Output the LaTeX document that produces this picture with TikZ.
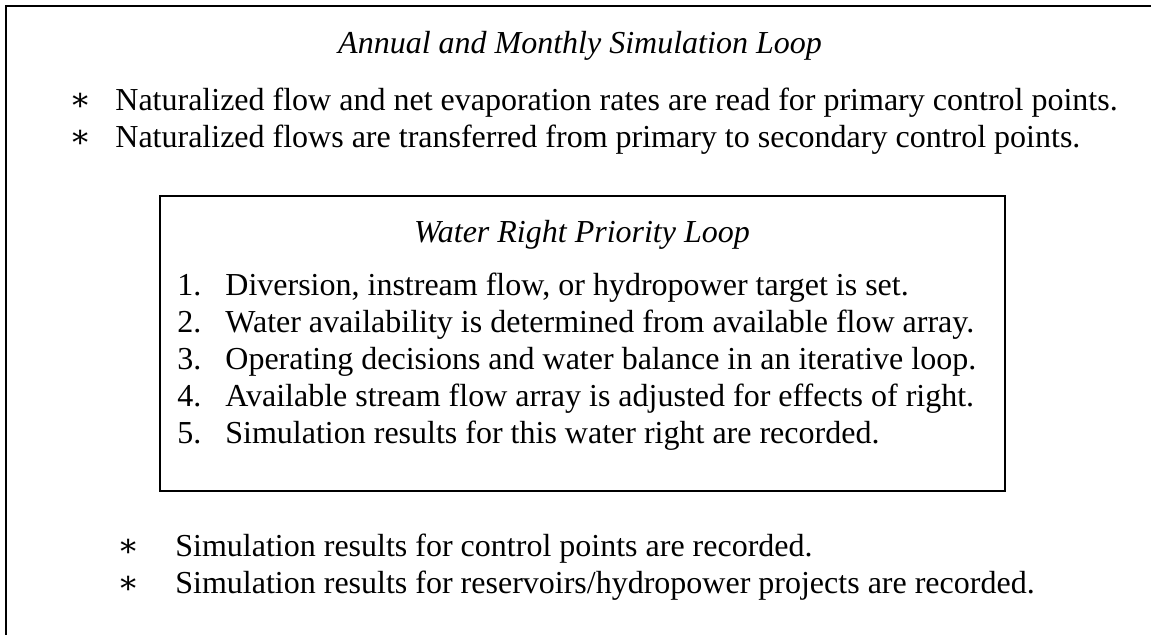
\documentclass[tikz,border=0pt]{standalone}
\usepackage{fontspec}
\setmainfont{Liberation Serif}
\newfontfamily\symfont{DejaVu Serif}
\begin{document}
\begin{tikzpicture}[x=0.5pt, y=-0.5pt,
    txt/.style={anchor=base west, inner sep=0pt, font=\fontsize{16}{18.5}\selectfont},
    star/.style={anchor=base west, inner sep=0pt, font=\fontsize{16}{18.5}\symfont},
    head/.style={anchor=base, inner sep=0pt, font=\fontsize{16}{18.5}\selectfont\itshape},
    frame/.style={line width=1pt}]
    \useasboundingbox (0,0) rectangle (1151,635);

    % outer loop frame (right and bottom sides run off the page)
    \draw[frame] (6,640) -- (6,6) -- (1160,6);
    \node[head] (annual) at (580,54) {Annual and Monthly Simulation Loop};
    \node[star] (s1) at (69,111) {∗};
    \node[txt] (t1) at (115,111) {Naturalized flow and net evaporation rates are read for primary control points.};
    \node[star] (s2) at (69,148) {∗};
    \node[txt] (t2) at (115,148) {Naturalized flows are transferred from primary to secondary control points.};

    % inner priority loop
    \draw[frame] (160,196) rectangle (1005,491);
    \node[head] (water) at (582,243) {Water Right Priority Loop};
    \foreach \n/\y/\s in {1/296/{Diversion, instream flow, or hydropower target is set.},
                         2/333/{Water availability is determined from available flow array.},
                         3/370/{Operating decisions and water balance in an iterative loop.},
                         4/407/{Available stream flow array is adjusted for effects of right.},
                         5/444/{Simulation results for this water right are recorded.}} {
        \node[txt] (num\n) at (177,\y) {\n.};
        \node[txt] (step\n) at (225,\y) {\s};
    }

    \node[star] (s3) at (117,557) {∗};
    \node[txt] (t3) at (175,557) {Simulation results for control points are recorded.};
    \node[star] (s4) at (117,594) {∗};
    \node[txt] (t4) at (175,594) {Simulation results for reservoirs/hydropower projects are recorded.};
\end{tikzpicture}
\end{document}
